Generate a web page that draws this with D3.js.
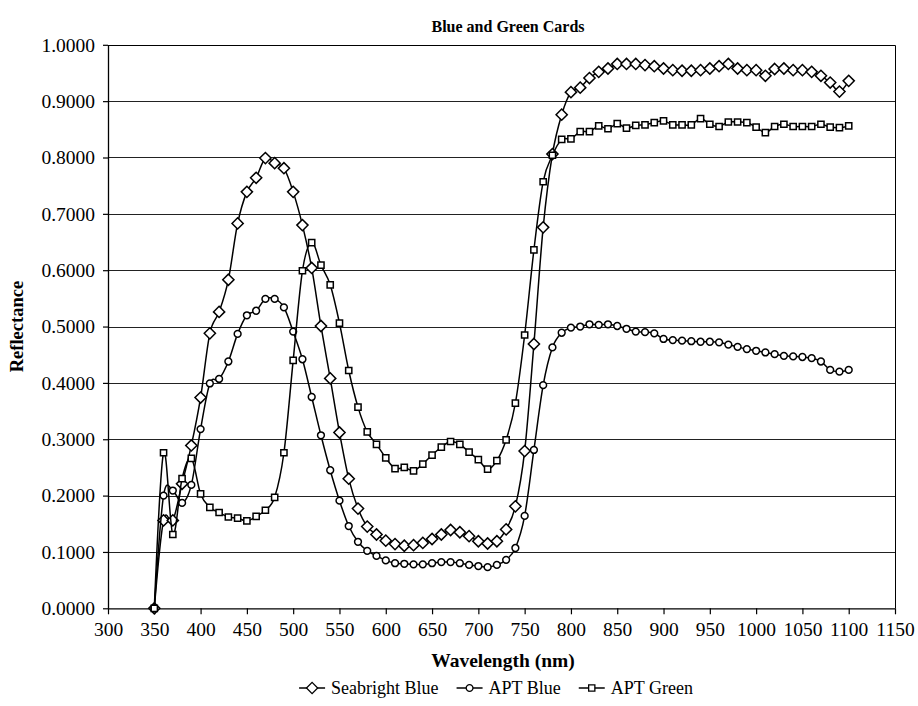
<!DOCTYPE html>
<html>
<head>
<meta charset="utf-8">
<script src="https://cdn.jsdelivr.net/npm/d3@7"></script>
<style>
  html, body { margin: 0; padding: 0; background: #fff; }
  svg { display: block; }
  svg text { font-family: "Liberation Serif", Tinos, "Times New Roman", Times, "DejaVu Serif", serif !important; fill: #000; }
</style>
</head>
<body>
<svg id="chart" width="918" height="706"></svg>
<script>
// ---- Data ----
const wavelengths = d3.range(350, 1101, 10);

const seabrightBlue = [
  0, 0.156, 0.156, 0.221, 0.289, 0.374, 0.488, 0.526, 0.583, 0.683,
  0.739, 0.764, 0.799, 0.790, 0.781, 0.739, 0.680, 0.604, 0.501, 0.408,
  0.312, 0.230, 0.177, 0.145, 0.131, 0.120, 0.114, 0.111, 0.112, 0.116,
  0.123, 0.131, 0.139, 0.135, 0.128, 0.119, 0.115, 0.119, 0.140, 0.181,
  0.279, 0.469, 0.676, 0.806, 0.876, 0.916, 0.924, 0.941, 0.952, 0.958,
  0.966, 0.966, 0.966, 0.964, 0.962, 0.958, 0.955, 0.954, 0.954, 0.955,
  0.958, 0.962, 0.966, 0.958, 0.955, 0.955, 0.945, 0.957, 0.958, 0.955,
  0.955, 0.952, 0.945, 0.933, 0.917, 0.936
];

const aptBlue = [
  0, 0.200, 0.209, 0.187, 0.219, 0.318, 0.399, 0.407, 0.438, 0.487,
  0.520, 0.528, 0.549, 0.549, 0.534, 0.491, 0.442, 0.375, 0.307, 0.245,
  0.191, 0.146, 0.118, 0.102, 0.093, 0.085, 0.080, 0.079, 0.078, 0.078,
  0.080, 0.082, 0.082, 0.080, 0.077, 0.075, 0.073, 0.077, 0.086, 0.107,
  0.164, 0.281, 0.396, 0.463, 0.489, 0.498, 0.500, 0.504, 0.503, 0.504,
  0.501, 0.496, 0.491, 0.490, 0.488, 0.478, 0.476, 0.475, 0.474, 0.473,
  0.473, 0.472, 0.468, 0.464, 0.460, 0.457, 0.454, 0.451, 0.448, 0.447,
  0.446, 0.444, 0.438, 0.423, 0.420, 0.423
];

const aptGreen = [
  0, 0.276, 0.131, 0.230, 0.266, 0.203, 0.179, 0.170, 0.162, 0.160,
  0.155, 0.163, 0.174, 0.197, 0.276, 0.440, 0.599, 0.649, 0.609, 0.574,
  0.506, 0.422, 0.357, 0.313, 0.291, 0.267, 0.248, 0.250, 0.244, 0.256,
  0.272, 0.286, 0.296, 0.291, 0.277, 0.264, 0.247, 0.262, 0.299, 0.364,
  0.485, 0.636, 0.757, 0.804, 0.832, 0.833, 0.846, 0.846, 0.856, 0.851,
  0.860, 0.852, 0.857, 0.858, 0.862, 0.865, 0.858, 0.858, 0.858, 0.869,
  0.859, 0.855, 0.863, 0.863, 0.862, 0.854, 0.844, 0.855, 0.859, 0.855,
  0.855, 0.855, 0.859, 0.854, 0.853, 0.856
];

const seriesNames = ["Seabright Blue", "APT Blue", "APT Green"];
const seriesMarkers = ["diamond", "circle", "square"];
const xTicks = d3.range(300, 1151, 50);
const yTicks = d3.range(0, 1.0001, 0.1);

const titleText = "Blue and Green Cards";
const xTitle = "Wavelength (nm)";
const yTitle = "Reflectance";

// ---- Layout ----
const FONT = '"Liberation Serif", Tinos, "Times New Roman", Times, "DejaVu Serif", serif';
const svg = d3.select("#chart");
const pL = 108, pR = 895, pT = 44.8, pB = 608.3;
const x = d3.scaleLinear().domain([300, 1150]).range([pL, pR]);
const y = d3.scaleLinear().domain([0, 1]).range([pB, pT]);

// gridlines
svg.append("g").selectAll("line").data(yTicks.slice(1)).join("line")
  .attr("x1", pL).attr("x2", pR)
  .attr("y1", d => Math.round(y(d)) + 0.5).attr("y2", d => Math.round(y(d)) + 0.5)
  .attr("stroke", "#222").attr("stroke-width", 1);

// plot border (top and right)
svg.append("path")
  .attr("d", `M${pL},${Math.round(pT)+0.5} H${Math.round(pR)+0.5} V${pB}`)
  .attr("fill", "none").attr("stroke", "#000").attr("stroke-width", 1);

// axes
const yAxis = svg.append("g").attr("transform", `translate(${pL},0)`)
  .call(d3.axisLeft(y).tickValues(yTicks).tickFormat(d3.format(".4f")).tickSize(5).tickSizeOuter(0).tickPadding(8));
const xAxis = svg.append("g").attr("transform", `translate(0,${pB})`)
  .call(d3.axisBottom(x).tickValues(xTicks).tickFormat(d3.format("d")).tickSize(6).tickSizeOuter(0).tickPadding(8));
[yAxis, xAxis].forEach(a => {
  a.attr("font-family", FONT);
  a.select(".domain").attr("stroke", "#000").attr("stroke-width", 1.3);
  a.selectAll(".tick line").attr("stroke", "#000").attr("stroke-width", 1.2);
  a.selectAll(".tick text").style("font-family", FONT).attr("font-size", 19.5).attr("fill", "#000");
});

// markers
function markerPath(type) {
  if (type === "diamond") { const r = 5.6; return `M0,${-r}L${r},0L0,${r}L${-r},0Z`; }
  if (type === "square") { const s = 3.1; return `M${-s},${-s}H${s}V${s}H${-s}Z`; }
  const r = 3.4; return `M${r},0A${r},${r} 0 1,1 ${-r},0A${r},${r} 0 1,1 ${r},0Z`;
}

const seriesData = [seabrightBlue, aptBlue, aptGreen];
const line = d3.line()
  .x((d, i) => x(wavelengths[i]))
  .y(d => y(d))
  .curve(d3.curveCatmullRom.alpha(0));

seriesData.forEach((vals, si) => {
  const g = svg.append("g");
  g.append("path").datum(vals).attr("d", line)
    .attr("fill", "none").attr("stroke", "#000").attr("stroke-width", 1.5);
  g.selectAll("path.m").data(vals).join("path").attr("class", "m")
    .attr("transform", (d, i) => `translate(${x(wavelengths[i])},${y(d)})`)
    .attr("d", markerPath(seriesMarkers[si]))
    .attr("fill", "#fff").attr("stroke", "#000").attr("stroke-width", 1.5);
});

// titles
svg.append("text").attr("x", 508).attr("y", 32).attr("text-anchor", "middle").style("font-family", FONT)
  .attr("font-weight", "bold").attr("font-size", 16).text(titleText);
svg.append("text").attr("x", 503).attr("y", 667).attr("text-anchor", "middle").style("font-family", FONT)
  .attr("font-weight", "bold").attr("font-size", 19.5).text(xTitle);
svg.append("text").attr("transform", `translate(23,${(pT + pB) / 2}) rotate(-90)`).style("font-family", FONT)
  .attr("text-anchor", "middle").attr("font-weight", "bold").attr("font-size", 18.5).text(yTitle);

// legend
const lg = svg.append("g");
const lgY = 688;
let cx = 0;
const gap = 18;
seriesNames.forEach((name, i) => {
  const it = lg.append("g").attr("transform", `translate(${cx},0)`);
  it.append("line").attr("x1", 0).attr("x2", 26).attr("y1", lgY).attr("y2", lgY)
    .attr("stroke", "#000").attr("stroke-width", 1.5);
  it.append("path").attr("transform", `translate(13,${lgY})`)
    .attr("d", markerPath(seriesMarkers[i])).attr("fill", "#fff").attr("stroke", "#000").attr("stroke-width", 1.3);
  const t = it.append("text").attr("x", 32).attr("y", lgY + 6).style("font-family", FONT).attr("font-size", 18).text(name);
  const w = t.node().getComputedTextLength();
  cx += 32 + w + gap;
});
const total = cx - gap;
lg.attr("transform", `translate(${496 - total / 2},0)`);
</script>
</body>
</html>
